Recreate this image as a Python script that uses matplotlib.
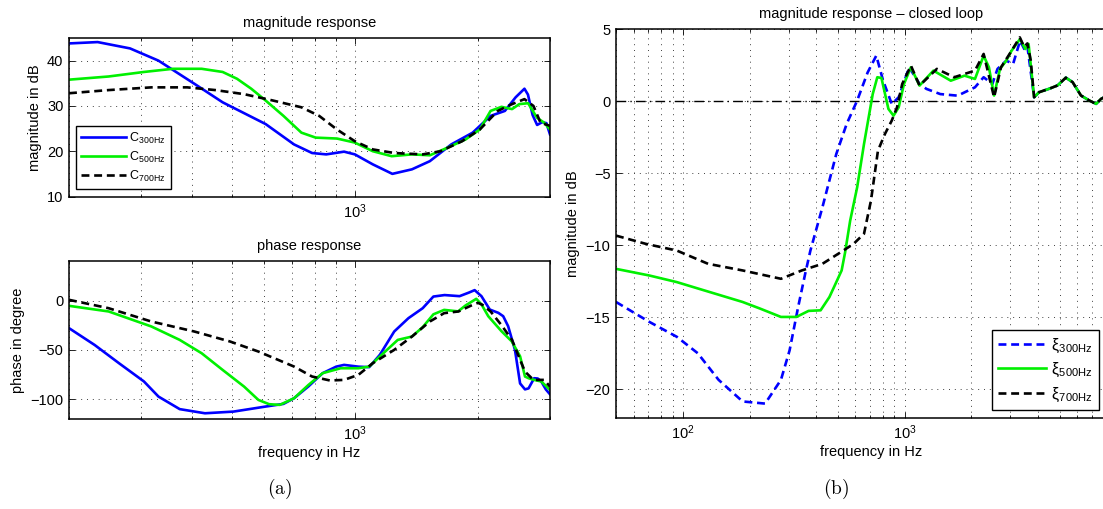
import numpy as np
import matplotlib.pyplot as plt
from matplotlib.ticker import FixedLocator, LogLocator, NullFormatter

plt.rcParams['font.family'] = ['Liberation Sans', 'DejaVu Sans']
plt.rcParams['mathtext.fontset'] = 'cm'
plt.rcParams['font.size'] = 10

#%% data
# (a) controller magnitude in dB
f_c300_mag = [200, 235, 282, 331, 405, 475, 605, 710, 786, 851, 941, 1000, 1106, 1235, 1379, 1525,
              1721, 1941, 2147, 2327, 2472, 2598, 2650, 2720, 2790, 2870, 2940, 3000]
c300_mag = [43.8, 44.1, 42.7, 40.0, 34.9, 30.8, 26.0, 21.5, 19.6, 19.3, 19.9, 19.3, 17.1, 15.0, 16.0, 17.8,
            21.5, 24.1, 27.8, 28.9, 31.9, 33.8, 32.5, 28.0, 25.8, 26.4, 26.2, 23.7]

f_c500_mag = [200, 250, 305, 359, 422, 475, 515, 558, 605, 669, 740, 802, 904, 1000, 1106, 1230, 1379,
              1525, 1687, 1865, 2021, 2147, 2283, 2423, 2524, 2652, 2788, 2903, 3000]
c500_mag = [35.8, 36.5, 37.5, 38.2, 38.2, 37.5, 36.0, 33.8, 31.2, 27.8, 24.1, 23.0, 22.8, 21.9, 20.0, 18.9, 19.3,
            19.1, 20.8, 22.6, 24.8, 28.9, 29.8, 29.3, 30.4, 30.6, 27.4, 26.3, 24.8]

f_c700_mag = [200, 250, 318, 389, 456, 536, 630, 740, 818, 904, 1000, 1106, 1248, 1465, 1620, 1828,
              2021, 2235, 2423, 2598, 2733, 2844, 3000]
c700_mag = [32.8, 33.5, 34.1, 34.1, 33.5, 32.6, 31.2, 29.7, 27.8, 24.8, 22.2, 20.4, 19.6, 19.3, 20.0, 22.2,
            24.8, 28.9, 30.4, 31.5, 30.0, 26.3, 25.6]

# (a) controller phase in degree
f_c300_ph = [200, 231, 265, 305, 331, 373, 430, 505, 605, 669, 710, 770, 834, 900, 941, 1020, 1084, 1151,
             1248, 1352, 1465, 1556, 1657, 1803, 1900, 1963, 2039, 2138, 2243, 2305, 2370, 2463, 2535,
             2606, 2659, 2744, 2800, 2856, 2930, 3000]
c300_ph = [-28, -45, -63.5, -82, -97.3, -110, -114.2, -112.5, -107.4, -104.7, -99, -87, -73.6, -67, -65.2,
           -67, -67.5, -55, -31.4, -17.9, -7.8, 4, 5.5, 4.4, 8, 10.5, 4.4, -9.2, -12.5, -15.9, -26, -50,
           -84, -90, -89, -78.7, -79, -82, -90, -95]

f_c500_ph = [200, 250, 318, 373, 422, 475, 536, 581, 617, 655, 710, 770, 834, 923, 1020, 1084, 1174, 1273,
             1379, 1465, 1556, 1653, 1788, 1865, 1981, 2040, 2119, 2283, 2418, 2535, 2606, 2659, 2744,
             2856, 3000]
c500_ph = [-5.4, -11.1, -26.3, -39.9, -53.4, -70.3, -87.2, -100.7, -105, -105.7, -99, -85.5, -73.6, -68.6,
           -68.6, -66.9, -53.4, -39.9, -36.5, -27, -14, -9.5, -11.0, -5, 1.7, -4, -15.9, -31.1, -41.3,
           -56.5, -77, -78.7, -80.4, -82, -90.5]

f_c700_ph = [200, 250, 318, 405, 495, 581, 710, 786, 869, 941, 1020, 1106, 1248, 1379, 1525, 1653, 1792,
             1941, 2000, 2051, 2147, 2283, 2423, 2535, 2606, 2733, 2903, 3000]
c700_ph = [0.7, -7.8, -21.3, -31.4, -41.5, -51.7, -66.9, -77, -81, -80.4, -75.3, -63.5, -50, -36.5, -21.3,
           -12.8, -11.1, -4.4, -2.4, -4.4, -11.1, -25, -40, -60, -72, -80.4, -80.4, -87.2]

# (b) closed loop magnitude in dB
f_x300 = [50, 70.6, 94, 116.8, 145, 186, 235, 277, 303, 331, 356, 376, 426, 492, 548, 611, 681, 745, 800,
          875, 940, 1048, 1167, 1254, 1448, 1734, 2075, 2270, 2484, 2622, 2870, 3083, 3313, 3497, 3580,
          3833, 4036, 4482, 4888, 5327, 5715, 6234, 6806, 7298, 7681, 8000]
x300 = [-13.94, -15.32, -16.36, -17.5, -19.35, -20.85, -21.0, -19.35, -17.3, -14.3, -12.0, -10.37, -7.36,
        -3.66, -1.57, 0.05, 2.0, 3.17, 1.43, -0.19, 0.28, 2.36, 1.2, 0.86, 0.5, 0.39, 0.97, 1.67, 1.2, 2.25,
        2.82, 2.6, 4.2, 3.5, 3.75, 0.28, 0.63, 0.87, 1.1, 1.64, 1.33, 0.4, 0.05, -0.18, 0.17, 0.3]

f_x500 = [50, 70.6, 94, 116.8, 139.6, 186, 223, 277, 325, 369, 418, 458, 492, 520, 539, 568, 611, 656, 718,
          753, 786, 845, 891, 940, 993, 1067, 1167, 1348, 1614, 1862, 2075, 2270, 2398, 2530, 2690, 2870,
          3030, 3313, 3497, 3620, 3833, 4036, 4482, 4888, 5327, 5715, 6234, 6806, 7298, 7681, 8000]
x500 = [-11.64, -12.1, -12.56, -13.0, -13.36, -13.94, -14.4, -14.98, -14.98, -14.56, -14.52, -13.6, -12.56,
        -11.75, -10.5, -8.3, -5.97, -2.96, 0.5, 1.67, 1.62, -0.53, -1.0, -0.42, 1.2, 2.36, 1.09, 2.13, 1.43,
        1.78, 1.55, 3.17, 2.36, 0.4, 2.25, 2.82, 3.5, 4.33, 3.63, 3.98, 0.28, 0.63, 0.87, 1.1, 1.64, 1.33,
        0.4, 0.05, -0.18, 0.17, 0.3]

f_x700 = [50, 68, 94, 130, 186, 277, 344, 426, 529, 589, 656, 705, 758, 815, 875, 924, 975, 1067, 1167,
          1397, 1673, 2075, 2270, 2530, 2718, 2973, 3304, 3454, 3574, 3700, 3833, 4036, 4482, 4888, 5327,
          5715, 6234, 6806, 7298, 7681, 8000]
x700 = [-9.33, -9.9, -10.37, -11.29, -11.75, -12.33, -11.75, -11.29, -10.37, -9.9, -9.2, -6.9, -3.43, -2.27,
        -1.34, -0.42, 1.2, 2.48, 1.09, 2.25, 1.67, 2.13, 3.29, 0.28, 2.36, 3.29, 4.44, 3.78, 4.02, 2.85,
        0.28, 0.63, 0.87, 1.1, 1.64, 1.33, 0.4, 0.05, -0.18, 0.17, 0.3]

labels_c = [r'$\mathregular{C}_{\mathregular{300Hz}}$', r'$\mathregular{C}_{\mathregular{500Hz}}$',
            r'$\mathregular{C}_{\mathregular{700Hz}}$']
labels_x = [r'$\mathregular{ξ}_{\mathregular{300Hz}}$', r'$\mathregular{ξ}_{\mathregular{500Hz}}$',
            r'$\mathregular{ξ}_{\mathregular{700Hz}}$']

BLUE = '#0000ff'
GREEN = '#00f000'
LW = 1.9
DASH = (0, (3.0, 1.8))
GRID = dict(linestyle=(0, (1, 5)), color='0.25', linewidth=0.7)

#%% figure
W, H = 1103, 509
fig = plt.figure(figsize=(W / 100, H / 100), dpi=100)
ax_mag = fig.add_axes([69 / W, 1 - 196.5 / H, 481 / W, 158.5 / H])
ax_ph = fig.add_axes([69 / W, 1 - 419 / H, 481 / W, 158 / H])
ax_cl = fig.add_axes([616 / W, 1 - 418 / H, 510.5 / W, 388.7 / H])


def style(ax):
    ax.set_xscale('log')
    ax.xaxis.set_minor_locator(LogLocator(base=10, subs=np.arange(2, 10)))
    ax.xaxis.set_minor_formatter(NullFormatter())
    ax.tick_params(which='both', direction='in', top=True, right=True, width=0.6, labelsize=10.5, pad=4)
    ax.tick_params(which='major', length=4)
    ax.tick_params(which='minor', length=2.5)
    ax.grid(True, which='major', **GRID)
    ax.grid(True, which='minor', axis='x', **GRID)
    ax.set_axisbelow(True)
    for s in ax.spines.values():
        s.set_linewidth(1.1)


# magnitude response
ax_mag.plot(f_c300_mag, c300_mag, color=BLUE, lw=LW, label=labels_c[0])
ax_mag.plot(f_c500_mag, c500_mag, color=GREEN, lw=LW, label=labels_c[1])
ax_mag.plot(f_c700_mag, c700_mag, color='k', lw=LW, ls=DASH, label=labels_c[2])
style(ax_mag)
ax_mag.set_xlim(200, 3000)
ax_mag.set_ylim(10, 45)
ax_mag.yaxis.set_major_locator(FixedLocator([10, 20, 30, 40]))
ax_mag.xaxis.set_major_locator(FixedLocator([1000]))
ax_mag.set_xticklabels([r'$\mathregular{10^{3}}$'])
ax_mag.set_title('magnitude response', fontsize=10.5, pad=8)
ax_mag.set_ylabel('magnitude in dB', fontsize=10.5)
leg = ax_mag.legend(loc='lower left', bbox_to_anchor=(6.7 / 481, 7.8 / 158.5), borderaxespad=0,
                    fontsize=9, handlelength=3.6, labelspacing=0.3, fancybox=False, edgecolor='k',
                    framealpha=1, borderpad=0.4, handletextpad=0.3)
leg.get_frame().set_linewidth(1.0)

# phase response
ax_ph.plot(f_c300_ph, c300_ph, color=BLUE, lw=LW)
ax_ph.plot(f_c500_ph, c500_ph, color=GREEN, lw=LW)
ax_ph.plot(f_c700_ph, c700_ph, color='k', lw=LW, ls=DASH)
style(ax_ph)
ax_ph.set_xlim(200, 3000)
ax_ph.set_ylim(-120, 40)
ax_ph.yaxis.set_major_locator(FixedLocator([-100, -50, 0]))
ax_ph.xaxis.set_major_locator(FixedLocator([1000]))
ax_ph.set_xticklabels([r'$\mathregular{10^{3}}$'])
ax_ph.set_title('phase response', fontsize=10.5, pad=8)
ax_ph.set_ylabel('phase in degree', fontsize=10.5)
ax_ph.set_xlabel('frequency in Hz', fontsize=10.5, labelpad=2)

# closed loop
ax_cl.axhline(0, color='k', lw=1.0, ls=(0, (7, 3, 1, 3)))
ax_cl.plot(f_x300, x300, color=BLUE, lw=LW, ls=DASH, label=labels_x[0])
ax_cl.plot(f_x500, x500, color=GREEN, lw=LW, label=labels_x[1])
ax_cl.plot(f_x700, x700, color='k', lw=LW, ls=DASH, label=labels_x[2])
style(ax_cl)
ax_cl.set_xlim(50, 10000)
ax_cl.set_ylim(-22, 5)
ax_cl.yaxis.set_major_locator(FixedLocator([-20, -15, -10, -5, 0, 5]))
ax_cl.xaxis.set_major_locator(FixedLocator([100, 1000]))
ax_cl.set_xticklabels([r'$\mathregular{10^{2}}$', r'$\mathregular{10^{3}}$'])
ax_cl.set_title('magnitude response \u2013 closed loop', fontsize=10.5, pad=8)
ax_cl.set_ylabel('magnitude in dB', fontsize=10.5)
ax_cl.set_xlabel('frequency in Hz', fontsize=10.5, labelpad=2)
leg2 = ax_cl.legend(loc='lower right', bbox_to_anchor=(1099 / W, 1 - 410 / H), bbox_transform=fig.transFigure,
                    borderaxespad=0, fontsize=11.5, handlelength=3.0, labelspacing=0.4, fancybox=False,
                    edgecolor='k', framealpha=1, borderpad=0.4, handletextpad=0.3)
leg2.get_frame().set_linewidth(1.0)

# captions
fig.text(280 / W, 1 - 489 / H, r'$\mathrm{(a)}$', fontsize=14, ha='center', va='center')
fig.text(836 / W, 1 - 489 / H, r'$\mathrm{(b)}$', fontsize=14, ha='center', va='center')

fig.savefig('out.png', dpi=100)
